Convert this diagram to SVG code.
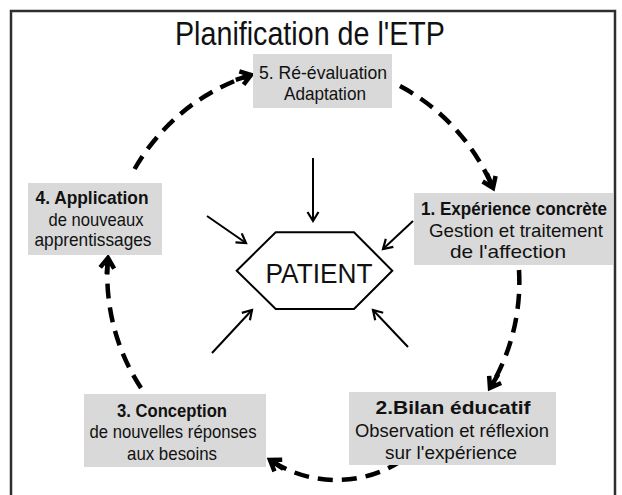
<svg xmlns="http://www.w3.org/2000/svg" width="622" height="495" viewBox="0 0 622 495">
<style>
text{font-family:"Liberation Sans","DejaVu Sans",sans-serif;fill:#111;text-anchor:middle}
.t{font-size:19px}
.b{font-size:19px;font-weight:bold}
.box{fill:#d9d9d9}
.dash{fill:none;stroke:#000;stroke-width:4.5;stroke-dasharray:15 9}
.thin{fill:none;stroke:#000;stroke-width:2}
</style>
<defs>
<marker id="dh" markerUnits="userSpaceOnUse" viewBox="-20 -10 26 20" markerWidth="26" markerHeight="20" refX="0" refY="0" orient="auto" overflow="visible">
<path d="M-16,0 H-2 M-10,-7 L0,0 L-10,7" fill="none" stroke="#000" stroke-width="4.5" stroke-dasharray="none"/>
</marker>
<marker id="th" markerUnits="userSpaceOnUse" viewBox="-12 -8 16 16" markerWidth="16" markerHeight="16" refX="0" refY="0" orient="auto" overflow="visible">
<path d="M-9,-5.5 L0,0 L-9,5.5" fill="none" stroke="#000" stroke-width="2.2"/>
</marker>
</defs>
<rect width="622" height="495" fill="#fff"/>
<path d="M11,500 V11 H615 V500" fill="none" stroke="#2e2e2e" stroke-width="2.5"/>
<text x="310" y="45" style="font-size:34px" textLength="270" lengthAdjust="spacingAndGlyphs">Planification de l'ETP</text>
<g id="connectors">
<path class="dash" d="M134.6,169 A206,206 0 0 1 251,75" marker-end="url(#dh)"/>
<path class="dash" d="M400,86 A206,206 0 0 1 493,188" marker-end="url(#dh)"/>
<path class="dash" d="M519,270 A206,206 0 0 1 490,388" marker-end="url(#dh)"/>
<path class="dash" d="M420,446 A120,120 0 0 1 270,460" marker-end="url(#dh)"/>
<path class="dash" d="M141,388 A206,206 0 0 1 108,258" marker-end="url(#dh)"/>
<path class="thin" d="M313,158 L313,221" marker-end="url(#th)"/>
<path class="thin" d="M207,216 L246,243" marker-end="url(#th)"/>
<path class="thin" d="M413,221 L383,249" marker-end="url(#th)"/>
<path class="thin" d="M212,353 L252,310" marker-end="url(#th)"/>
<path class="thin" d="M408,347 L373,310" marker-end="url(#th)"/>
</g>
<g id="patient">
<polygon points="236.7,270.7 275.7,232.3 354,232.3 392.3,270.7 354,309 275.7,309" fill="#fff" stroke="#000" stroke-width="2"/>
<text x="319" y="283" style="font-size:27px" textLength="107" lengthAdjust="spacingAndGlyphs">PATIENT</text>
</g>
<g id="n5">
<rect class="box" x="253" y="54" width="139" height="54"/>
<text class="t" x="323" y="79" textLength="128" lengthAdjust="spacingAndGlyphs">5. Ré-évaluation</text>
<text class="t" x="325" y="100" textLength="82" lengthAdjust="spacingAndGlyphs">Adaptation</text>
</g>
<g id="n1">
<rect class="box" x="414" y="193" width="199" height="72"/>
<text class="b" x="514" y="215" style="font-size:18px" textLength="186" lengthAdjust="spacingAndGlyphs">1. Expérience concrète</text>
<text class="t" x="516" y="237" textLength="174" lengthAdjust="spacingAndGlyphs">Gestion et traitement</text>
<text class="t" x="508" y="258" textLength="116" lengthAdjust="spacingAndGlyphs">de l'affection</text>
</g>
<g id="n4">
<rect class="box" x="28" y="183" width="134" height="72"/>
<text class="b" x="92" y="204" textLength="113" lengthAdjust="spacingAndGlyphs">4. Application</text>
<text class="t" x="96" y="226" textLength="95" lengthAdjust="spacingAndGlyphs">de nouveaux</text>
<text class="t" x="93" y="246" textLength="117" lengthAdjust="spacingAndGlyphs">apprentissages</text>
</g>
<g id="n3">
<rect class="box" x="84" y="394" width="182" height="73"/>
<text class="b" x="172" y="417" textLength="110" lengthAdjust="spacingAndGlyphs">3. Conception</text>
<text class="t" x="173" y="438" textLength="167" lengthAdjust="spacingAndGlyphs">de nouvelles réponses</text>
<text class="t" x="172" y="460" textLength="90" lengthAdjust="spacingAndGlyphs">aux besoins</text>
</g>
<g id="n2">
<rect class="box" x="349" y="392" width="207" height="73"/>
<text class="b" x="453" y="414" textLength="155" lengthAdjust="spacingAndGlyphs">2.Bilan éducatif</text>
<text class="t" x="452" y="437" textLength="194" lengthAdjust="spacingAndGlyphs">Observation et réflexion</text>
<text class="t" x="451" y="459" textLength="132" lengthAdjust="spacingAndGlyphs">sur l'expérience</text>
</g>
</svg>
